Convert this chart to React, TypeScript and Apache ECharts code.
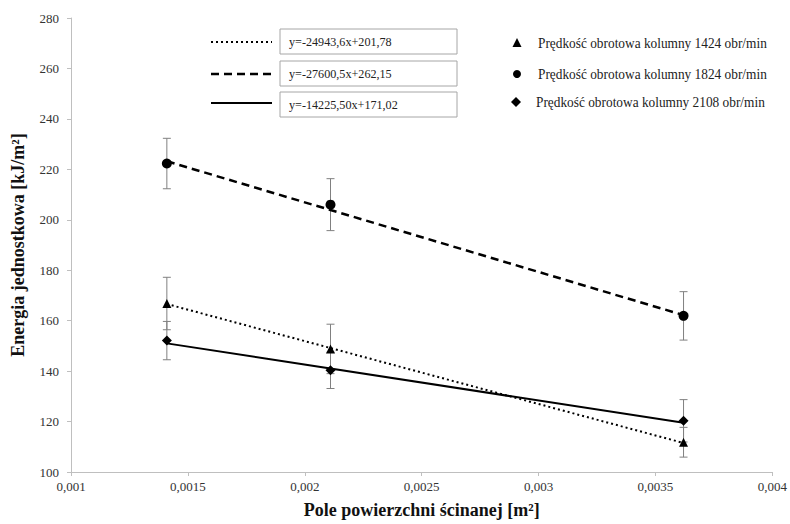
import React, { useEffect, useRef } from "react";
import * as echarts from "echarts";

const xVals = [0.00141, 0.00211, 0.00362];
const e1424 = [166.8, 148.8, 111.8];
const err1424 = [10.4, 9.8, 5.9];
const e1824 = [222.3, 206.0, 161.9];
const err1824 = [10.0, 10.3, 9.6];
const e2108 = [152.1, 140.3, 120.3];
const err2108 = [7.6, 7.2, 8.4];

const trendX = [0.00141, 0.00362];
const trend1424 = [166.6, 111.5];
const trend1824 = [223.2, 162.2];
const trend2108 = [151.0, 119.5];

const eqLabels = ["y=-24943,6x+201,78", "y=-27600,5x+262,15", "y=-14225,50x+171,02"];
const seriesNames = [
  "Prędkość obrotowa kolumny 1424 obr/min",
  "Prędkość obrotowa kolumny 1824 obr/min",
  "Prędkość obrotowa kolumny 2108 obr/min",
];

const FONT = "Liberation Serif";

function errData(vals: number[], errs: number[]) {
  return xVals.map((x, i) => [x, vals[i] - errs[i], vals[i] + errs[i]]);
}

function errRender(params: any, api: any) {
  const x = api.value(0);
  const lo = api.coord([x, api.value(1)]);
  const hi = api.coord([x, api.value(2)]);
  const cap = 4;
  const style = { stroke: "#808080", lineWidth: 1 };
  return {
    type: "group",
    children: [
      { type: "line", shape: { x1: lo[0], y1: lo[1], x2: hi[0], y2: hi[1] }, style },
      { type: "line", shape: { x1: lo[0] - cap, y1: lo[1], x2: lo[0] + cap, y2: lo[1] }, style },
      { type: "line", shape: { x1: hi[0] - cap, y1: hi[1], x2: hi[0] + cap, y2: hi[1] }, style },
    ],
  };
}

function pts(vals: number[]) {
  return xVals.map((x, i) => [x, vals[i]]);
}
function tpts(vals: number[]) {
  return trendX.map((x, i) => [x, vals[i]]);
}

export default function App() {
  const ref = useRef<HTMLDivElement>(null);
  useEffect(() => {
    if (!ref.current) return;
    const chart = echarts.init(ref.current, null, { renderer: "svg" });
    const lineStyles: any[] = [
      { type: [2, 3], width: 2 },
      { type: [8, 5], width: 2.5 },
      { type: "solid", width: 2 },
    ];
    const graphic: any[] = [];
    const boxY = [29, 61, 92];
    const lineY = [42, 74, 103];
    for (let i = 0; i < 3; i++) {
      graphic.push({
        type: "line",
        shape: { x1: 211, y1: lineY[i], x2: 272, y2: lineY[i] },
        style: {
          stroke: "#000",
          lineWidth: lineStyles[i].width,
          lineDash: typeof lineStyles[i].type === "string" ? null : lineStyles[i].type,
        },
      });
      graphic.push({
        type: "rect",
        shape: { x: 280, y: boxY[i], width: 177, height: 25 },
        style: { fill: "#fff", stroke: "#a6a6a6", lineWidth: 1 },
      });
      graphic.push({
        type: "text",
        x: 289,
        y: boxY[i] + 13,
        style: {
          text: eqLabels[i],
          fontFamily: FONT,
          fontSize: 13.5,
          fill: "#222",
          verticalAlign: "middle",
        },
        scaleX: 0.9,
      });
    }
    const legY = [43, 74, 102];
    graphic.push({
      type: "polygon",
      shape: { points: [[517, legY[0] - 5], [521.5, legY[0] + 4], [512.5, legY[0] + 4]] },
      style: { fill: "#000" },
    });
    graphic.push({ type: "circle", shape: { cx: 517, cy: legY[1], r: 4 }, style: { fill: "#000" } });
    graphic.push({
      type: "polygon",
      shape: { points: [[516, legY[2] - 5], [521, legY[2]], [516, legY[2] + 5], [511, legY[2]]] },
      style: { fill: "#000" },
    });
    const textX = [538, 538, 536];
    for (let i = 0; i < 3; i++) {
      graphic.push({
        type: "text",
        x: textX[i],
        y: legY[i],
        style: {
          text: seriesNames[i],
          fontFamily: FONT,
          fontSize: 14.5,
          fill: "#222",
          verticalAlign: "middle",
        },
        scaleX: 0.92,
      });
    }

    const option: any = {
      animation: false,
      backgroundColor: "#fff",
      textStyle: { fontFamily: FONT },
      grid: { left: 71, right: 16, top: 18, bottom: 48, containLabel: false },
      xAxis: {
        type: "value",
        min: 0.001,
        max: 0.004,
        interval: 0.0005,
        name: "Pole powierzchni ścinanej [m²]",
        nameLocation: "middle",
        nameGap: 29,
        nameTextStyle: { fontFamily: FONT, fontWeight: "bold", fontSize: 18, color: "#111" },
        axisLine: { lineStyle: { color: "#bfbfbf", width: 1 } },
        axisTick: { show: true, length: 4, lineStyle: { color: "#bfbfbf" } },
        splitLine: { show: false },
        axisLabel: {
          fontFamily: FONT,
          fontSize: 13,
          color: "#333",
          margin: 8,
          formatter: (v: number) => Number(v.toFixed(4)).toString().replace(".", ","),
        },
      },
      yAxis: {
        type: "value",
        min: 100,
        max: 280,
        interval: 20,
        name: "Energia jednostkowa [kJ/m²]",
        nameLocation: "middle",
        nameGap: 44,
        nameTextStyle: { fontFamily: FONT, fontWeight: "bold", fontSize: 18, color: "#111" },
        axisLine: { show: true, lineStyle: { color: "#bfbfbf", width: 1 } },
        axisTick: { show: true, length: 4, lineStyle: { color: "#bfbfbf" } },
        splitLine: { show: false },
        axisLabel: { fontFamily: FONT, fontSize: 13, color: "#333", margin: 12 },
      },
      series: [
        { type: "custom", renderItem: errRender, data: errData(e1424, err1424), z: 1, encode: { x: 0, y: [1, 2] } },
        { type: "custom", renderItem: errRender, data: errData(e1824, err1824), z: 1, encode: { x: 0, y: [1, 2] } },
        { type: "custom", renderItem: errRender, data: errData(e2108, err2108), z: 1, encode: { x: 0, y: [1, 2] } },
        { type: "line", data: tpts(trend1424), showSymbol: false, lineStyle: { color: "#000", ...lineStyles[0] }, z: 2 },
        { type: "line", data: tpts(trend1824), showSymbol: false, lineStyle: { color: "#000", ...lineStyles[1] }, z: 2 },
        { type: "line", data: tpts(trend2108), showSymbol: false, lineStyle: { color: "#000", ...lineStyles[2] }, z: 2 },
        { type: "scatter", name: seriesNames[0], data: pts(e1424), symbol: "triangle", symbolSize: 9, itemStyle: { color: "#000", opacity: 1 }, z: 3 },
        { type: "scatter", name: seriesNames[1], data: pts(e1824), symbol: "circle", symbolSize: 10, itemStyle: { color: "#000", opacity: 1 }, z: 3 },
        { type: "scatter", name: seriesNames[2], data: pts(e2108), symbol: "diamond", symbolSize: 10, itemStyle: { color: "#000", opacity: 1 }, z: 3 },
      ],
      graphic,
    };
    chart.setOption(option);
    return () => chart.dispose();
  }, []);
  return <div ref={ref} style={{ width: 790, height: 524, position: "absolute", left: 0, top: 0 }} />;
}
